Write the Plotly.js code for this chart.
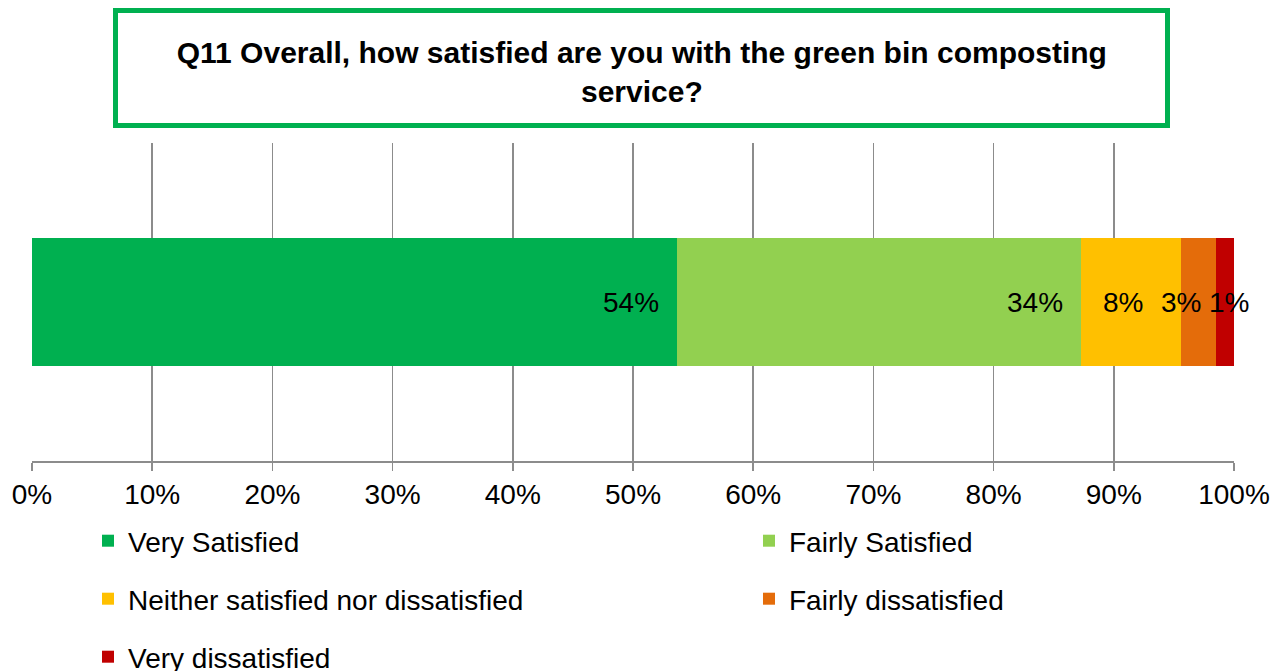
<!DOCTYPE html>
<html>
<head>
<meta charset="utf-8">
<script src="https://cdn.plot.ly/plotly-3.0.1.min.js"></script>
<style>html,body{margin:0;padding:0;background:#fff;}#chart{width:1285px;height:671px;}</style>
</head>
<body>
<div id="chart"></div>
<script>
const categories = ["Q11"];
const seriesNames = ["Very Satisfied", "Fairly Satisfied", "Neither satisfied nor dissatisfied", "Fairly dissatisfied", "Very dissatisfied"];
const values = [53.7, 33.6, 8.3, 2.9, 1.5];
const labels = ["54%", "34%", "8%", "3%", "1%"];
const colors = ["#00B050", "#92D050", "#FFC000", "#E46C0A", "#C00000"];
const tickVals = [0, 10, 20, 30, 40, 50, 60, 70, 80, 90, 100];
const tickText = ["0%", "10%", "20%", "30%", "40%", "50%", "60%", "70%", "80%", "90%", "100%"];

// layout/style settings (not data)
const legendIds = ["legend", "legend2", "legend3", "legend4", "legend5"];
const legendX = [0.0466, 0.5965, 0.0466, 0.5965, 0.0466];
const legendYpx = [541, 541, 599, 599, 657];
const labelShift = [-16, -16, -36, -13, 17];

const FONT = "Liberation Sans, Arial, sans-serif";

const traces = seriesNames.map((name, i) => ({
  type: "bar",
  orientation: "h",
  name: name,
  y: categories,
  x: [values[i]],
  marker: {color: colors[i], line: {width: 0}},
  legend: legendIds[i],
  hoverinfo: "skip"
}));

// label annotations at the end of each cumulative segment
const annotations = [];
let cum = 0;
values.forEach((v, i) => {
  cum = Math.round((cum + v) * 1000) / 1000;
  annotations.push({
    x: cum, y: categories[0], xref: "x", yref: "y",
    text: labels[i], showarrow: false,
    xanchor: "right", yanchor: "middle", xshift: labelShift[i],
    font: {family: FONT, size: 28, color: "#000"}
  });
});

const layout = {
  width: 1285, height: 671,
  margin: {l: 32, r: 51, t: 143, b: 210},
  paper_bgcolor: "#fff", plot_bgcolor: "#fff",
  barmode: "stack",
  bargap: 0.6,
  showlegend: true,
  title: {
    text: "<b>Q11 Overall, how satisfied are you with the green bin composting<br>service?</b>",
    font: {family: FONT, size: 30, color: "#000"},
    xref: "container", yref: "container", x: 0.4995, y: 1 - 63/671,
    xanchor: "center", yanchor: "middle"
  },
  xaxis: {
    range: [0, 100], tickvals: tickVals, ticktext: tickText,
    showgrid: true, gridcolor: "#8C8C8C", gridwidth: 1.5,
    showline: true, linecolor: "#8C8C8C", linewidth: 1.5,
    ticks: "outside", ticklen: 8, tickcolor: "#8C8C8C", tickwidth: 1.5,
    tickfont: {family: FONT, size: 28, color: "#000"},
    zeroline: false, fixedrange: true
  },
  yaxis: {
    range: [-0.5, 0.5], showticklabels: false, showgrid: false,
    zeroline: false, showline: false, fixedrange: true
  },
  shapes: [{
    type: "rect", xref: "paper", yref: "paper",
    x0: (115.5 - 32)/1202, x1: (1167.5 - 32)/1202,
    y0: (461 - 125.5)/318, y1: (461 - 10.5)/318,
    line: {color: "#00B050", width: 5}, fillcolor: "rgba(0,0,0,0)"
  }],
  annotations: annotations
};

legendIds.forEach((id, i) => {
  layout[id] = {
    orientation: "v", xref: "paper", yref: "container",
    x: legendX[i], y: 1 - legendYpx[i] / 671,
    xanchor: "left", yanchor: "middle",
    font: {family: FONT, size: 28, color: "#000"},
    bgcolor: "rgba(0,0,0,0)"
  };
});

Plotly.newPlot("chart", traces, layout, {displayModeBar: false, staticPlot: true});
</script>
</body>
</html>
